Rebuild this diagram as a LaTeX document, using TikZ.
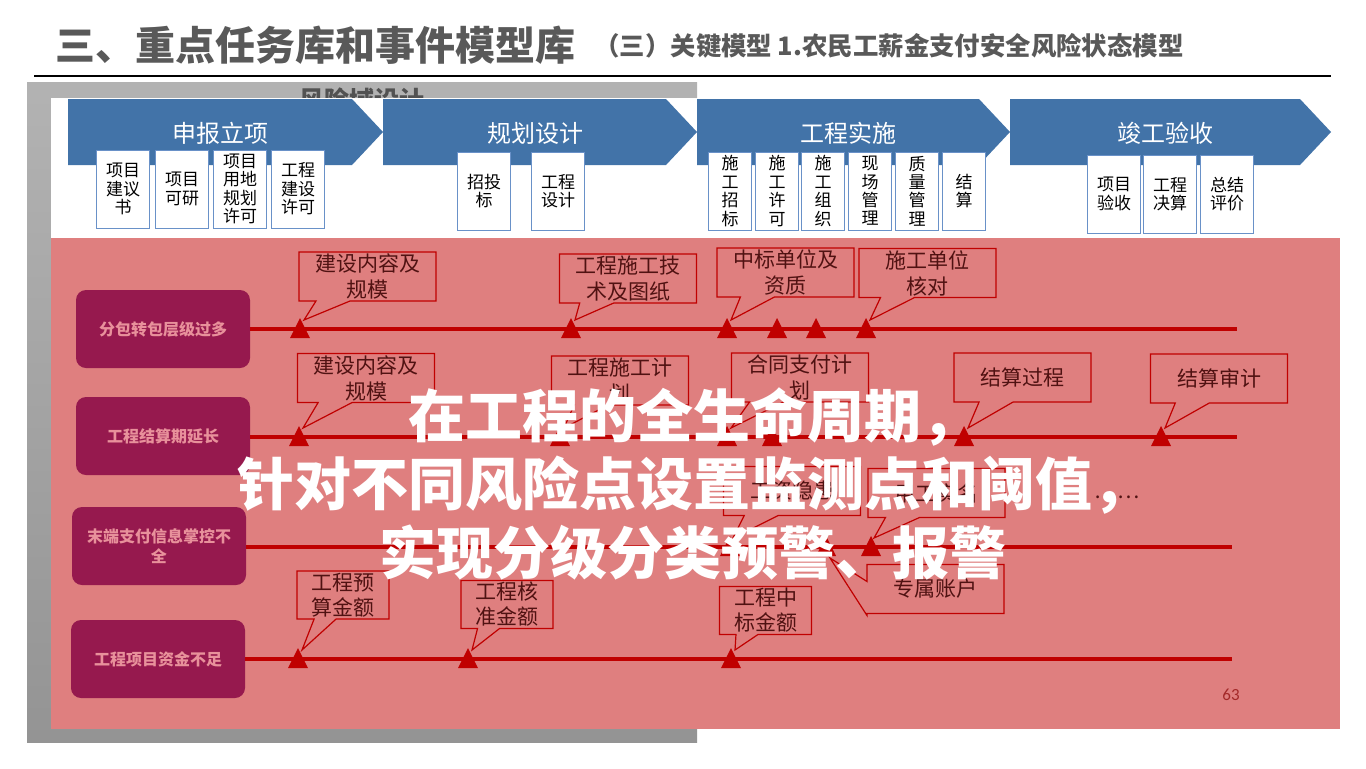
\documentclass[tikz,border=0pt]{standalone}
\usepackage{fontspec}
\setmainfont{Noto Sans CJK SC}
\newfontfamily\numfont{Carlito}
\usetikzlibrary{shapes.callouts,calc}

\definecolor{titlegray}{RGB}{89,89,89}
\definecolor{phaseblue}{RGB}{66,115,168}
\definecolor{boxblue}{RGB}{105,145,200}
\definecolor{riskpink}{RGB}{223,127,127}
\definecolor{riskred}{RGB}{192,0,0}
\definecolor{labelplum}{RGB}{150,25,78}
\definecolor{labeltext}{RGB}{232,145,155}
\definecolor{notetext}{RGB}{80,18,18}

\begin{document}
\begin{tikzpicture}[x=0.5pt,y=-0.5pt,
    phasetext/.style={text=white,font=\fontsize{12}{14}\selectfont},
    subbox/.style={draw=boxblue,fill=white,line width=0.5pt,minimum width=26.5pt,minimum height=39pt,inner sep=0pt,align=center,font=\fontsize{8.5}{9.2}\selectfont},
    narrowbox/.style={subbox,minimum width=21.5pt},
    risklabel/.style={fill=labelplum,rounded corners=5pt,text=labeltext,minimum width=87pt,minimum height=39pt,inner sep=0pt,align=center,font=\bfseries\fontsize{8}{10}\selectfont},
    riskline/.style={riskred,line width=2pt},
    note/.style={rectangle callout,draw=riskred,line width=0.6pt,text=notetext,minimum width=68.5pt,minimum height=24.5pt,inner sep=0pt,align=center,callout pointer width=17pt,font=\fontsize{10.5}{13}\selectfont},
    smallnote/.style={note,minimum width=46pt,minimum height=24pt,callout pointer width=11pt,font=\fontsize{10.5}{12.5}\selectfont},
    warn/.pic={\fill[riskred] (0,-11) -- (10,9) -- (-10,9) -- cycle;}
  ]
  \useasboundingbox (0,0) rectangle (1366,768);
  \fill[white] (0,0) rectangle (1366,768);

  % heading
  \node[anchor=west,inner sep=0pt,text=titlegray,font=\bfseries\fontsize{20}{24}\selectfont] (title) at (55,45) {三、重点任务库和事件模型库};
  \node[anchor=west,inner sep=0pt,text=titlegray,font=\bfseries\fontsize{12.7}{15}\selectfont] (subtitle) at (594,46) {（三）关键模型 1.农民工薪金支付安全风险状态模型};
  \draw[line width=0.75pt] (34,76) -- (1331,76);

  % slide behind
  \shade[top color=black!30,bottom color=black!42] (27,82) rectangle (697,742);
  \node[text=black!68,font=\bfseries\fontsize{12.5}{15}\selectfont] (domain) at (362,100) {风险域设计};
  \fill[white] (51,98) rectangle (1340,238);
  \fill[riskpink] (51,238) rectangle (1340,729);

  % phases
  \foreach \a/\b/\t [count=\i] in {68/383/申报立项,383/697/规划设计,697/1010/工程实施,1010/1331/竣工验收}{
    \fill[phaseblue] (\a,99) -- (\b-31,99) -- (\b,132) -- (\b-31,165) -- (\a,165) -- cycle;
    \node[phasetext] (ph\i) at ({(\a+\b)/2-5},133) {\t};
  }

  \node[subbox] (s11) at (123,189) {项目\\建议\\书};
  \node[subbox] (s12) at (182,189) {项目\\可研};
  \node[subbox] (s13) at (240,189) {项目\\用地\\规划\\许可};
  \node[subbox] (s14) at (298,189) {工程\\建设\\许可};

  \node[subbox] (s21) at (484,191) {招投\\标};
  \node[subbox] (s22) at (558,191) {工程\\设计};

  \node[narrowbox] (s31) at (730,191) {施\\工\\招\\标};
  \node[narrowbox] (s32) at (777,191) {施\\工\\许\\可};
  \node[narrowbox] (s33) at (823,191) {施\\工\\组\\织};
  \node[narrowbox] (s34) at (870,191) {现\\场\\管\\理};
  \node[narrowbox] (s35) at (917,191) {质\\量\\管\\理};
  \node[narrowbox] (s36) at (964,191) {结\\算};

  \node[subbox] (s41) at (1114,194) {项目\\验收};
  \node[subbox] (s42) at (1170,194) {工程\\决算};
  \node[subbox] (s43) at (1227,194) {总结\\评价};

  % risk rows
  \node[risklabel] (r1) at (163,329) {分包转包层级过多};
  \node[risklabel] (r2) at (163,436) {工程结算期延长};
  \node[risklabel] (r3) at (159,546) {末端支付信息掌控不\\全};
  \node[risklabel] (r4) at (158,659) {工程项目资金不足};

  \coordinate (e1) at (1237,329);
  \coordinate (e2) at (1237,437);
  \coordinate (e3) at (1232,547);
  \coordinate (e4) at (1232,659);
  \draw[riskline] (r1.east) -- (e1);
  \draw[riskline] (r2.east |- e2) -- (e2);
  \draw[riskline] (r3.east |- e3) -- (e3);
  \draw[riskline] (r4.east) -- (e4);

  \foreach \x [count=\i] in {300,571,727,777,816,866}{
    \coordinate (w1-\i) at (\x,329); \pic at (w1-\i) {warn};}
  \foreach \x [count=\i] in {299,560,727,772,964,1161}{
    \coordinate (w2-\i) at (\x,437); \pic at (w2-\i) {warn};}
  \foreach \x [count=\i] in {730,826,871}{
    \coordinate (w3-\i) at (\x,547); \pic at (w3-\i) {warn};}
  \foreach \x [count=\i] in {298,468,731}{
    \coordinate (w4-\i) at (\x,659); \pic at (w4-\i) {warn};}

  % monitoring points
  \node[note,callout absolute pointer={($(w1-1)+(4,-9)$)}] (n11) at (367.5,276.5) {建设内容及\\规模};
  \node[note,callout absolute pointer={($(w1-2)+(4,-9)$)}] (n12) at (628,278.5) {工程施工技\\术及图纸};
  \node[note,callout absolute pointer={($(w1-3)+(4,-9)$)}] (n13) at (785.5,272.5) {中标单位及\\资质};
  \node[note,callout absolute pointer={($(w1-6)+(4,-9)$)}] (n14) at (927.5,273) {施工单位\\核对};

  \node[note,callout absolute pointer={($(w2-1)+(4,-9)$)}] (n21) at (366,378) {建设内容及\\规模};
  \node[note,callout absolute pointer={($(w2-2)+(4,-9)$)}] (n22) at (620,380.5) {工程施工计\\划};
  \node[note,callout absolute pointer={($(w2-3)+(4,-9)$)}] (n23) at (800,377.5) {合同支付计\\划};
  \node[note,callout absolute pointer={($(w2-5)+(4,-9)$)}] (n24) at (1022.5,377.5) {结算过程};
  \node[note,callout absolute pointer={($(w2-6)+(4,-9)$)}] (n25) at (1219,378.5) {结算审计};

  \node[note,callout absolute pointer={($(w3-1)+(3,-9)$)}] (n31) at (792,491) {工资隐患};
  \node[note,callout absolute pointer={($(w3-3)+(3,-9)$)}] (n32) at (936.5,493) {用工实名};
  \node[note,callout absolute pointer={($(w3-2)+(4,11)$)}] (n33) at (935.5,589) {专属账户};
  \node[text=notetext,font=\fontsize{10.5}{13}\selectfont] (more) at (1117,497) {……};

  \node[smallnote,callout absolute pointer={($(w4-1)+(4,-9)$)}] (n41) at (343,595) {工程预\\算金额};
  \node[smallnote,callout absolute pointer={($(w4-2)+(4,-9)$)}] (n42) at (507,604.5) {工程核\\准金额};
  \node[smallnote,callout absolute pointer={($(w4-3)+(4,-9)$)}] (n43) at (765.5,610.5) {工程中\\标金额};

  \node[text=riskred!60!riskpink!80!black,font=\numfont\fontsize{8.5}{10}\selectfont] (page) at (1231,695) {63};

  % message on top
  \node[text=white,align=center,font=\bfseries\fontsize{28.5}{34.25}\selectfont] (slogan) at (693,483.5) {在工程的全生命周期，\\针对不同风险点设置监测点和阈值，\\实现分级分类预警、报警};
\end{tikzpicture}
\end{document}
